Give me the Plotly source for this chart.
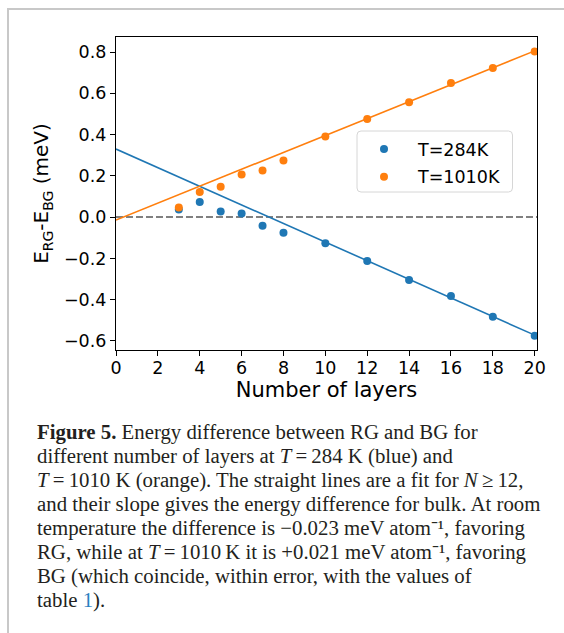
import numpy as np
import plotly.graph_objects as go

# ---- data ----
layers = [3, 4, 5, 6, 7, 8, 10, 12, 14, 16, 18, 20]
dE_284K = [0.037, 0.073, 0.027, 0.018, -0.042, -0.076, -0.127, -0.213, -0.305, -0.382, -0.483, -0.575]
dE_1010K = [0.047, 0.122, 0.147, 0.207, 0.226, 0.274, 0.391, 0.476, 0.557, 0.650, 0.723, 0.803]
series_names = ["T=284K", "T=1010K"]
fit_min_N = 12
fit_range = [0, 20]
x_ticks = list(range(0, 21, 2))
y_ticks = [-0.6, -0.4, -0.2, 0.0, 0.2, 0.4, 0.6, 0.8]

caption_lines = [
    "<b>Figure 5.</b> Energy difference between RG and BG for",
    "different number of layers at <i>T</i>\u2009=\u2009284 K (blue) and",
    "<i>T</i>\u2009=\u20091010 K (orange). The straight lines are a fit for <i>N</i>\u2009\u2265\u200912,",
    "and their slope gives the energy difference for bulk. At room",
    "temperature the difference is \u22120.023 meV atom\u207b\u00b9, favoring",
    "RG, while at <i>T</i>\u2009=\u20091010\u2009K it is +0.021 meV atom\u207b\u00b9, favoring",
    "BG (which coincide, within error, with the values of",
    "table <span style='color:#2a80c0'>1</span>).",
]

BLUE = "#1f77b4"
ORANGE = "#ff7f0e"

# ---- page geometry (pixels) ----
W, H = 564, 633
L, R, T, B = 116, 27, 37, 283
pw, ph = W - L - R, H - T - B


def px_x(p):
    return (p - L) / pw


def px_y(p):
    return (H - B - p) / ph


def fit_line(xs, ys):
    xs = np.asarray(xs, float)
    ys = np.asarray(ys, float)
    m = xs >= fit_min_N
    k, c = np.polyfit(xs[m], ys[m], 1)
    xf = np.array(fit_range, float)
    return xf, k * xf + c


fig = go.Figure()
for ys, col in [(dE_284K, BLUE), (dE_1010K, ORANGE)]:
    xf, yf = fit_line(layers, ys)
    fig.add_trace(go.Scatter(x=xf, y=yf, mode="lines", line=dict(color=col, width=1.6),
                             showlegend=False, hoverinfo="skip"))
for ys, col, name, grp in [(dE_284K, BLUE, series_names[0], "a"), (dE_1010K, ORANGE, series_names[1], "b")]:
    fig.add_trace(go.Scatter(x=layers, y=ys, mode="markers", name=name, legendgroup=grp,
                             marker=dict(color=col, size=8, line=dict(width=0))))

# dashed zero line
fig.add_shape(type="line", xref="paper", yref="y", x0=0, x1=1, y0=0, y1=0,
              line=dict(color="#808080", width=2, dash="7px,3px"), layer="below")

# outer grey frame of the figure panel
fig.add_shape(type="line", xref="paper", yref="paper", x0=px_x(8), x1=px_x(W + 5),
              y0=px_y(9), y1=px_y(9), line=dict(color="#c8c8c8", width=2))
fig.add_shape(type="line", xref="paper", yref="paper", x0=px_x(8), x1=px_x(8),
              y0=px_y(8), y1=px_y(H + 5), line=dict(color="#c8c8c8", width=2))

# legend frame (rounded)
bx0, bx1, by0, by1, r = 357, 512.5, 131, 192, 4
path = (f"M {px_x(bx0 + r)},{px_y(by0)} L {px_x(bx1 - r)},{px_y(by0)} "
        f"Q {px_x(bx1)},{px_y(by0)} {px_x(bx1)},{px_y(by0 + r)} "
        f"L {px_x(bx1)},{px_y(by1 - r)} Q {px_x(bx1)},{px_y(by1)} {px_x(bx1 - r)},{px_y(by1)} "
        f"L {px_x(bx0 + r)},{px_y(by1)} Q {px_x(bx0)},{px_y(by1)} {px_x(bx0)},{px_y(by1 - r)} "
        f"L {px_x(bx0)},{px_y(by0 + r)} Q {px_x(bx0)},{px_y(by0)} {px_x(bx0 + r)},{px_y(by0)} Z")
fig.add_shape(type="path", xref="paper", yref="paper", path=path,
              line=dict(color="#d6d6d6", width=1), fillcolor="rgba(255,255,255,0.8)", layer="above")

# caption
for i, line in enumerate(caption_lines):
    fig.add_annotation(xref="paper", yref="paper", x=px_x(35), y=px_y(431.7 + 24.1 * i),
                       xanchor="left", yanchor="middle", showarrow=False, text=line, align="left",
                       font=dict(family="Liberation Serif", size=20.8, color="#231f20"))

axis_common = dict(showline=True, linecolor="black", linewidth=1.2, mirror=True,
                   ticks="outside", ticklen=5, tickwidth=1.2, tickcolor="black",
                   showgrid=False, zeroline=False, automargin=False,
                   tickfont=dict(family="DejaVu Sans", size=17.5, color="black"))

fig.update_xaxes(range=[0, 20.11], tickmode="array", tickvals=x_ticks, ticklabelstandoff=-3,
                 title=dict(text="Number of layers", font=dict(family="DejaVu Sans", size=21, color="black"),
                            standoff=4),
                 **axis_common)
fig.update_yaxes(range=[-0.644, 0.873], tickmode="array", tickvals=y_ticks, tickformat=".1f",
                 title=dict(text="E<sub>RG</sub>-E<sub>BG</sub> (meV)",
                            font=dict(family="DejaVu Sans", size=20, color="black"), standoff=9),
                 **axis_common)

fig.update_layout(
    width=W, height=H,
    margin=dict(l=L, r=R, t=T, b=B, pad=0),
    paper_bgcolor="white", plot_bgcolor="white",
    showlegend=True,
    legend=dict(x=px_x(350), y=px_y(131), xanchor="left", yanchor="top",
                bgcolor="rgba(0,0,0,0)", borderwidth=0, itemwidth=58,
                traceorder="grouped", tracegroupgap=2,
                font=dict(family="DejaVu Sans", size=17.5, color="black")),
)

fig.write_html("out.html")
